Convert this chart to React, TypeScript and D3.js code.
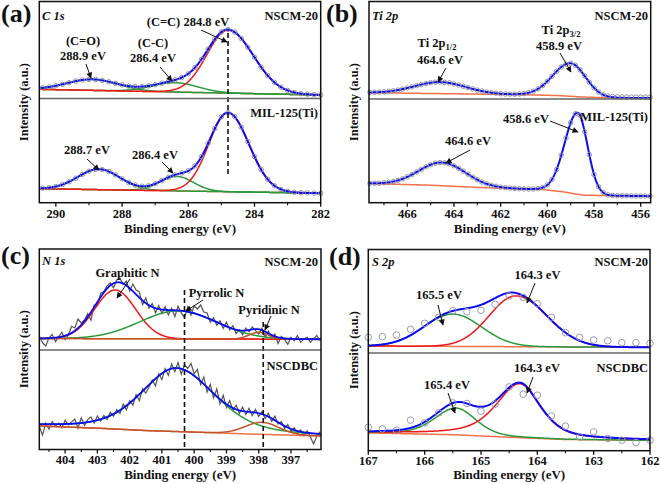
import React from "react";
import * as d3 from "d3";

// ================= DATA =================
// Axis ticks (binding energy, eV)
const C1S_TICKS = [290, 288, 286, 284, 282];
const C1S_MINOR = [289, 287, 285, 283];
const TI2P_TICKS = [466, 464, 462, 460, 458, 456];
const TI2P_MINOR = [467, 465, 463, 461, 459, 457];
const N1S_TICKS = [404, 403, 402, 401, 400, 399, 398, 397];
const N1S_MINOR = [404.5, 403.5, 402.5, 401.5, 400.5, 399.5, 398.5, 397.5, 396.5];
const S2P_TICKS = [167, 166, 165, 164, 163, 162];
const S2P_MINOR = [166.5, 165.5, 164.5, 163.5, 162.5];

// Measurement channels (start eV, step eV, count)
const C1S_CHANNELS = { start: 290.4, step: -0.2, count: 43 };
const TI2P_CHANNELS = { start: 467.6, step: -0.2, count: 61 };
const N1S_CHANNELS = { start: 404.8, step: -0.1, count: 88 };
const S2P_CHANNELS = { start: 167, step: -0.25, count: 21 };

// Observed intensities (a.u.)
const C1S_NSCM_OBS = [10.7, 11.6, 12.8, 14.2, 15.8, 17.4, 18.5, 19.1, 19.0, 18.1, 16.7, 15.2, 13.6, 12.4, 11.9, 11.9, 12.6, 13.8, 15.3, 16.8, 18.6, 20.9, 24.7, 30.9, 39.2, 49.4, 59.4, 66.6, 69.0, 66.5, 60.0, 51.3, 41.3, 31.4, 22.9, 16.2, 11.3, 8.1, 6.0, 4.9, 4.3, 3.8, 3.6];
const C1S_MIL_OBS = [14.6, 15.0, 16.2, 18.1, 20.9, 24.5, 28.3, 31.5, 33.3, 33.2, 31.2, 27.8, 23.8, 20.2, 17.6, 16.5, 16.9, 19.0, 22.1, 25.3, 27.8, 29.7, 31.9, 36.8, 46.1, 59.5, 74.2, 85.9, 90.1, 86.0, 75.5, 61.1, 46.1, 33.1, 23.4, 17.0, 13.3, 11.4, 10.4, 10.0, 9.8, 9.6, 9.5];
const TI2P_NSCM_OBS = [6.6, 6.7, 6.9, 7.2, 7.7, 8.2, 8.9, 9.9, 11.0, 12.1, 13.3, 14.4, 15.5, 16.3, 16.8, 16.9, 16.6, 16.1, 15.1, 14.0, 12.7, 11.4, 10.2, 8.9, 7.9, 7.0, 6.3, 5.8, 5.3, 5.0, 4.9, 4.8, 5.0, 5.5, 6.3, 7.8, 10.1, 13.4, 17.7, 22.7, 27.8, 32.1, 34.9, 35.7, 33.8, 29.2, 23.1, 16.8, 11.2, 7.0, 4.2, 3.0, 2.5, 2.2, 2.1, 2.0, 2.0, 1.9, 1.9, 1.8, 1.8];
const TI2P_MIL_OBS = [19.4, 19.5, 19.5, 19.9, 20.4, 21.1, 22.3, 23.9, 25.9, 28.1, 30.7, 33.4, 35.8, 38.0, 39.5, 40.2, 39.9, 38.8, 36.9, 34.4, 31.6, 28.6, 25.6, 23.0, 20.7, 18.9, 17.4, 16.4, 15.6, 15.0, 14.6, 14.3, 14.0, 13.8, 13.7, 13.7, 14.1, 15.2, 17.8, 23.3, 33.2, 47.6, 64.5, 79.9, 89.0, 87.4, 71.0, 48.1, 28.2, 15.9, 10.0, 7.8, 7.3, 7.0, 6.9, 6.85, 6.8, 6.7, 6.65, 6.6, 6.5];
const N1S_NSCM_OBS = [14.0, 7.2, 4.0, 12.1, 15.4, 8.3, 13.1, 17.8, 10.4, 14.7, 23.7, 22.0, 31.0, 27.0, 30.0, 36.3, 29.7, 44.8, 44.7, 56.5, 58.4, 64.1, 67.0, 62.2, 70.0, 71.7, 65.7, 68.8, 58.8, 66.0, 60.0, 58.0, 45.3, 52.2, 41.8, 46.4, 37.1, 44.4, 36.4, 43.3, 35.0, 41.8, 33.4, 43.8, 37.1, 32.3, 43.0, 35.0, 44.0, 41.0, 45.0, 38.0, 37.0, 27.8, 32.2, 24.7, 29.2, 21.7, 27.8, 20.1, 24.3, 16.5, 20.3, 15.3, 22.0, 18.2, 23.1, 19.4, 16.1, 21.8, 12.7, 18.9, 11.6, 15.9, 6.5, 13.7, 10.7, 5.7, 12.6, 9.3, 14.4, 7.7, 11.1, 12.8, 7.7, 11.2, 14.6, 9.5];
const N1S_NSCDBC_OBS = [23.3, 14.4, 26.4, 20.4, 27.9, 23.4, 26.3, 21.8, 29.3, 24.7, 27.6, 30.5, 21.4, 31.8, 24.1, 29.9, 32.6, 26.3, 33.4, 28.4, 33.9, 30.2, 37.1, 33.3, 39.9, 35.9, 45.3, 39.6, 48.8, 44.4, 55.0, 48.9, 60.9, 56.3, 62.2, 69.6, 63.6, 75.7, 70.0, 80.9, 74.1, 85.6, 77.8, 86.9, 75.2, 84.7, 81.0, 86.0, 75.7, 80.0, 64.9, 72.4, 57.4, 65.0, 51.6, 60.5, 45.4, 54.2, 41.9, 48.9, 39.3, 44.4, 36.0, 42.3, 35.1, 41.2, 33.9, 40.1, 32.9, 37.8, 30.9, 36.1, 28.0, 33.4, 25.4, 27.8, 21.2, 25.0, 18.2, 21.8, 16.3, 19.6, 13.9, 18.7, 12.8, 5.5, 13.2, 17.8];
const S2P_NSCM_OBS = [15.7, 16.3, 18, 23.7, 29.7, 35.7, 42.3, 41.3, 42.7, 48.7, 57, 55.7, 49.3, 35.7, 20.3, 15.7, 13, 12.3, 10.3, 10.3, 9.7];
const S2P_NSCDBC_OBS = [23.5, 21.8, 20.5, 30.5, 27.8, 37.8, 47.8, 47.2, 39.5, 46.5, 63.8, 56.5, 55.5, 34.8, 24.5, 13.8, 18.8, 12.2, 10.5, 8.2, 10.5];

// Backgrounds: [eV, intensity] knots
const C1S_NSCM_BG: [number, number][] = [[290.5, 9.2], [282, 3.5]];
const C1S_MIL_BG: [number, number][] = [[290.5, 14], [282, 9.5]];
const TI2P_NSCM_BG: [number, number][] = [[467.64, 6.3], [461, 4.3], [459.5, 3.4], [458.5, 2.0], [457.5, 1.2], [455.57, 0.9]];
const TI2P_MIL_BG: [number, number][] = [[467.64, 19.2], [465.0, 17.5], [462.9, 15.2], [460.2, 13.2], [459.3, 10.8], [458.46, 7.5], [455.57, 6.5]];
const N1S_NSCM_BG: [number, number][] = [[404.8, 11.5], [396.07, 10.7]];
const N1S_NSCDBC_BG: [number, number][] = [[404.8, 23.5], [402.9, 21.2], [401.4, 18.8], [399.8, 17.2], [398.3, 15.5], [396.07, 13.5]];
const S2P_NSCM_BG: [number, number][] = [[167, 7], [162, 5.7]];
const S2P_NSCDBC_BG: [number, number][] = [[167, 17.8], [165.5, 16.0], [164.3, 13.0], [163.5, 11.2], [162, 10.3]];

// Fitted peaks: center (eV), height, half widths on high/low BE side, Lorentzian fraction
type Peak = { comp: string; center: number; height: number; hwHigh: number; hwLow: number; eta: number };
const C1S_NSCM_PEAKS: Peak[] = [
  { comp: "C=O", center: 288.9, height: 11, hwHigh: 0.9, hwLow: 0.9, eta: 0 },
  { comp: "C-C", center: 286.4, height: 9.4, hwHigh: 0.8, hwLow: 0.8, eta: 0 },
  { comp: "C=C", center: 284.8, height: 63, hwHigh: 0.75, hwLow: 0.9, eta: 0 },
];
const C1S_MIL_PEAKS: Peak[] = [
  { comp: "C=O", center: 288.7, height: 20.5, hwHigh: 0.745, hwLow: 0.745, eta: 0 },
  { comp: "C-C", center: 286.35, height: 14.5, hwHigh: 0.59, hwLow: 0.59, eta: 0 },
  { comp: "C=C", center: 284.8, height: 79, hwHigh: 0.676, hwLow: 0.745, eta: 0 },
];
const TI2P_NSCM_PEAKS: Peak[] = [
  { comp: "Ti2p1/2", center: 464.6, height: 11.5, hwHigh: 1.3, hwLow: 1.3, eta: 0 },
  { comp: "Ti2p3/2", center: 459.0, height: 33, hwHigh: 0.9, hwLow: 0.75, eta: 0 },
];
const TI2P_MIL_PEAKS: Peak[] = [
  { comp: "Ti2p1/2", center: 464.5, height: 23.2, hwHigh: 1.186, hwLow: 1.186, eta: 0 },
  { comp: "Ti2p3/2", center: 458.7, height: 81.5, hwHigh: 0.65, hwLow: 0.5, eta: 0 },
];
const N1S_NSCM_PEAKS: Peak[] = [
  { comp: "graphitic", center: 402.45, height: 48.7, hwHigh: 0.75, hwLow: 0.75, eta: 0 },
  { comp: "pyrrolic", center: 400.5, height: 28, hwHigh: 1.4, hwLow: 1.4, eta: 0 },
  { comp: "pyridinic", center: 398.0, height: 6.8, hwHigh: 0.35, hwLow: 0.35, eta: 0 },
];
const N1S_NSCDBC_PEAKS: Peak[] = [
  { comp: "pyrrolic", center: 400.55, height: 63.5, hwHigh: 1.28, hwLow: 1.4, eta: 0.35 },
  { comp: "pyridinic", center: 397.9, height: 12, hwHigh: 0.62, hwLow: 0.62, eta: 0 },
];
const S2P_NSCM_PEAKS: Peak[] = [
  { comp: "S2p1/2", center: 165.5, height: 32.3, hwHigh: 0.6, hwLow: 0.6, eta: 0 },
  { comp: "S2p3/2", center: 164.38, height: 50.8, hwHigh: 0.56, hwLow: 0.65, eta: 0 },
];
const S2P_NSCDBC_PEAKS: Peak[] = [
  { comp: "S2p1/2", center: 165.44, height: 26.8, hwHigh: 0.45, hwLow: 0.41, eta: 0.3 },
  { comp: "S2p3/2", center: 164.31, height: 54, hwHigh: 0.5, hwLow: 0.43, eta: 0.6 },
];

// ================= STYLE / LAYOUT =================
const FONT = "'Liberation Serif','Times New Roman',Times,serif";
const BLUE = "#0c0cf0";
const RED = "#f01818";
const GREEN = "#2b9a3c";
const BROWN = "#c0542a";
const ORANGE = "#f4704a";
const COMP_COLOR: Record<string, string | null> = {
  "C=C": RED, "C-C": GREEN, "C=O": GREEN,
  "Ti2p1/2": null, "Ti2p3/2": null,
  graphitic: RED, pyrrolic: GREEN, pyridinic: BROWN,
  "S2p3/2": RED, "S2p1/2": GREEN,
};

type Sub = { bg: [number, number][]; peaks: Peak[]; ch: { start: number; step: number; count: number }; obs: number[] };
type Panel = {
  x0: number; x1: number; top: number; mid: number; bottom: number;
  domain: [number, number]; ticks: number[]; minor: number[];
  tickY: number; titleY: number; ylabX: number;
  letter: string; letterX: number; letterY: number;
  obsStyle: "dots" | "bigdots" | "line";
  subs: [Sub, Sub];
  dashed: { e: number; y1: number; y2: number }[];
  arrows: number[][];
  texts: { t: string; x: number; y: number; anchor?: string; italic?: boolean; sub?: string }[];
};

const PANELS: Panel[] = [
  {
    x0: 39.3, x1: 320.7, top: 1.5, mid: 98.5, bottom: 202.7, domain: [290.5, 282],
    ticks: C1S_TICKS, minor: C1S_MINOR, tickY: 218, titleY: 232.5, ylabX: 28,
    letter: "(a)", letterX: 1, letterY: 22, obsStyle: "dots",
    subs: [
      { bg: C1S_NSCM_BG, peaks: C1S_NSCM_PEAKS, ch: C1S_CHANNELS, obs: C1S_NSCM_OBS },
      { bg: C1S_MIL_BG, peaks: C1S_MIL_PEAKS, ch: C1S_CHANNELS, obs: C1S_MIL_OBS },
    ],
    dashed: [{ e: 284.8, y1: 33, y2: 176 }],
    arrows: [[86, 64, 91, 78], [160, 67, 172, 81], [201, 30, 227, 42], [87, 159, 99, 170], [162, 162, 173, 173]],
    texts: [
      { t: "C 1s", x: 42, y: 19.5, anchor: "start", italic: true },
      { t: "NSCM-20", x: 318, y: 19.5, anchor: "end" },
      { t: "(C=O)", x: 83, y: 45 },
      { t: "288.9 eV", x: 83, y: 59.5 },
      { t: "(C-C)", x: 153, y: 47 },
      { t: "286.4 eV", x: 153, y: 62 },
      { t: "(C=C) 284.8 eV", x: 188, y: 25.5 },
      { t: "MIL-125(Ti)", x: 318, y: 117, anchor: "end" },
      { t: "288.7 eV", x: 87, y: 153.5 },
      { t: "286.4 eV", x: 155, y: 159 },
    ],
  },
  {
    x0: 369, x1: 650.7, top: 1.5, mid: 99, bottom: 202.7, domain: [467.64, 455.57],
    ticks: TI2P_TICKS, minor: TI2P_MINOR, tickY: 218, titleY: 232.5, ylabX: 358,
    letter: "(b)", letterX: 326, letterY: 22, obsStyle: "dots",
    subs: [
      { bg: TI2P_NSCM_BG, peaks: TI2P_NSCM_PEAKS, ch: TI2P_CHANNELS, obs: TI2P_NSCM_OBS },
      { bg: TI2P_MIL_BG, peaks: TI2P_MIL_PEAKS, ch: TI2P_CHANNELS, obs: TI2P_MIL_OBS },
    ],
    dashed: [],
    arrows: [[560, 53, 571, 72], [446, 68, 438, 82], [550, 121, 578, 132], [470, 150, 446, 163]],
    texts: [
      { t: "Ti 2p", x: 372, y: 19.5, anchor: "start", italic: true },
      { t: "NSCM-20", x: 648, y: 19.5, anchor: "end" },
      { t: "Ti 2p", sub: "3/2", x: 561, y: 33.5 },
      { t: "458.9 eV", x: 559, y: 49.5 },
      { t: "Ti 2p", sub: "1/2", x: 437, y: 47 },
      { t: "464.6 eV", x: 440, y: 63.5 },
      { t: "458.6 eV", x: 526, y: 122.5 },
      { t: "MIL-125(Ti)", x: 648, y: 121, anchor: "end" },
      { t: "464.6 eV", x: 468, y: 145 },
    ],
  },
  {
    x0: 39.3, x1: 321, top: 249, mid: 350, bottom: 449.5, domain: [404.8, 396.07],
    ticks: N1S_TICKS, minor: N1S_MINOR, tickY: 464, titleY: 478.5, ylabX: 28,
    letter: "(c)", letterX: 1, letterY: 264, obsStyle: "line",
    subs: [
      { bg: N1S_NSCM_BG, peaks: N1S_NSCM_PEAKS, ch: N1S_CHANNELS, obs: N1S_NSCM_OBS },
      { bg: N1S_NSCDBC_BG, peaks: N1S_NSCDBC_PEAKS, ch: N1S_CHANNELS, obs: N1S_NSCDBC_OBS },
    ],
    dashed: [{ e: 400.3, y1: 290, y2: 448 }, { e: 397.86, y1: 322, y2: 448 }],
    arrows: [[130, 279, 117, 298], [203, 300, 186, 311], [271, 316, 265, 330]],
    texts: [
      { t: "N 1s", x: 42, y: 265, anchor: "start", italic: true },
      { t: "NSCM-20", x: 318, y: 265.5, anchor: "end" },
      { t: "Graphitic N", x: 127.5, y: 276.5 },
      { t: "Pyrrolic N", x: 216.5, y: 297 },
      { t: "Pyridinic N", x: 269, y: 314 },
      { t: "NSCDBC", x: 318, y: 370, anchor: "end" },
    ],
  },
  {
    x0: 368.3, x1: 650, top: 249.5, mid: 353, bottom: 450.7, domain: [167, 162],
    ticks: S2P_TICKS, minor: S2P_MINOR, tickY: 465, titleY: 479, ylabX: 358,
    letter: "(d)", letterX: 329, letterY: 265, obsStyle: "bigdots",
    subs: [
      { bg: S2P_NSCM_BG, peaks: S2P_NSCM_PEAKS, ch: S2P_CHANNELS, obs: S2P_NSCM_OBS },
      { bg: S2P_NSCDBC_BG, peaks: S2P_NSCDBC_PEAKS, ch: S2P_CHANNELS, obs: S2P_NSCDBC_OBS },
    ],
    dashed: [],
    arrows: [[535, 283, 527, 303], [438, 305, 443, 325], [533, 377, 527, 393], [448, 393, 455, 413]],
    texts: [
      { t: "S 2p", x: 372, y: 265.5, anchor: "start", italic: true },
      { t: "NSCM-20", x: 648, y: 265.5, anchor: "end" },
      { t: "164.3 eV", x: 537.5, y: 278.5 },
      { t: "165.5 eV", x: 439, y: 299 },
      { t: "NSCDBC", x: 648, y: 371.5, anchor: "end" },
      { t: "164.3 eV", x: 537, y: 371.5 },
      { t: "165.4 eV", x: 447, y: 388.5 },
    ],
  },
];

function profile(p: Peak, v: number) {
  const d = v - p.center;
  const hw = d >= 0 ? p.hwHigh : p.hwLow;
  const r2 = (d / hw) * (d / hw);
  return p.height * ((1 - p.eta) * Math.pow(2, -r2) + p.eta / (1 + r2));
}

function SubPlot({ sub, x, y, style, clip, dom }: { sub: Sub; x: d3.ScaleLinear<number, number>; y: d3.ScaleLinear<number, number>; style: string; clip: string; dom: [number, number] }) {
  const bgScale = d3.scaleLinear().domain(sub.bg.map((d) => d[0])).range(sub.bg.map((d) => d[1])).clamp(true);
  const xs = d3.range(0, 501).map((i) => dom[0] + ((dom[1] - dom[0]) * i) / 500);
  const env = (v: number) => bgScale(v) + d3.sum(sub.peaks, (p) => profile(p, v));
  const line = (f: (v: number) => number) =>
    d3.line<number>().x((v) => x(v)).y((v) => y(f(v))).curve(d3.curveLinear)(xs) || "";
  const energies = sub.obs.map((_, i) => sub.ch.start + sub.ch.step * i);
  const obsLine = d3.line<number>().x((_, i) => x(energies[i])).y((v) => y(v))(sub.obs) || "";
  return (
    <g>
      <g clipPath={`url(#${clip})`}>
        {style === "line" && <path d={obsLine} fill="none" stroke="#555" strokeWidth={1.2} />}
        <path d={line((v) => bgScale(v))} fill="none" stroke={ORANGE} strokeWidth={1.5} />
        {sub.peaks.map((p, i) => {
          const c = COMP_COLOR[p.comp];
          if (!c) return null;
          return <path key={i} d={line((v) => bgScale(v) + profile(p, v))} fill="none" stroke={c} strokeWidth={1.5} />;
        })}
        <path d={line(env)} fill="none" stroke={BLUE} strokeWidth={style === "line" ? 1.8 : 2} />
      </g>
      {style !== "line" &&
        sub.obs.map((v, i) => (
          <circle key={i} cx={x(energies[i])} cy={y(v)} r={style === "bigdots" ? 3.3 : 2.25}
            fill="none" stroke={style === "bigdots" ? "#9a9ab4" : "#8c8c98"} strokeWidth={style === "bigdots" ? 1 : 0.9} />
        ))}
    </g>
  );
}

function PanelView({ p, idx }: { p: Panel; idx: number }) {
  const x = d3.scaleLinear().domain(p.domain).range([p.x0, p.x1]);
  const yTop = d3.scaleLinear().domain([0, p.mid - p.top]).range([p.mid, p.top]);
  const yBot = d3.scaleLinear().domain([0, p.bottom - p.mid]).range([p.bottom, p.mid]);
  const cx = (p.x0 + p.x1) / 2;
  const cy = (p.top + p.bottom) / 2;
  return (
    <g>
      <defs>
        <clipPath id={`clipT${idx}`}><rect x={p.x0} y={p.top} width={p.x1 - p.x0} height={p.mid - p.top} /></clipPath>
        <clipPath id={`clipB${idx}`}><rect x={p.x0} y={p.mid} width={p.x1 - p.x0} height={p.bottom - p.mid} /></clipPath>
      </defs>
      <SubPlot sub={p.subs[0]} x={x} y={yTop} style={p.obsStyle} clip={`clipT${idx}`} dom={p.domain} />
      <SubPlot sub={p.subs[1]} x={x} y={yBot} style={p.obsStyle} clip={`clipB${idx}`} dom={p.domain} />
      {p.dashed.map((d, i) => (
        <line key={i} x1={x(d.e)} x2={x(d.e)} y1={d.y1} y2={d.y2} stroke="#111" strokeWidth={1.6} strokeDasharray="5,3" />
      ))}
      <line x1={p.x0} x2={p.x1} y1={p.mid} y2={p.mid} stroke="#666" strokeWidth={1.6} />
      <rect x={p.x0} y={p.top} width={p.x1 - p.x0} height={p.bottom - p.top} fill="none" stroke="#111" strokeWidth={1.5} />
      {p.ticks.map((t) => (
        <g key={t}>
          <line x1={x(t)} x2={x(t)} y1={p.bottom} y2={p.bottom + 4} stroke="#111" strokeWidth={1.3} />
          <text x={x(t)} y={p.tickY} textAnchor="middle" fontFamily={FONT} fontWeight="bold" fontSize={12.5} fill="#111">{t}</text>
        </g>
      ))}
      {p.minor.map((t) => (
        <line key={t} x1={x(t)} x2={x(t)} y1={p.bottom} y2={p.bottom + 2.5} stroke="#111" strokeWidth={1.1} />
      ))}
      <text x={cx} y={p.titleY} textAnchor="middle" fontFamily={FONT} fontWeight="bold" fontSize={13} fill="#111">Binding energy (eV)</text>
      <text transform={`translate(${p.ylabX},${cy}) rotate(-90)`} textAnchor="middle" fontFamily={FONT} fontWeight="bold" fontSize={12.5} fill="#111">Intensity (a.u.)</text>
      <text x={p.letterX} y={p.letterY} fontFamily={FONT} fontWeight="bold" fontSize={26} fill="#111">{p.letter}</text>
      {p.arrows.map((a, i) => (
        <line key={i} x1={a[0]} y1={a[1]} x2={a[2]} y2={a[3]} stroke="#111" strokeWidth={1} markerEnd="url(#arrowHead)" />
      ))}
      {p.texts.map((t, i) => (
        <text key={i} x={t.x} y={t.y} textAnchor={t.anchor || "middle"} fontFamily={FONT} fontWeight="bold"
          fontStyle={t.italic ? "italic" : "normal"} fontSize={12.5} fill="#111">
          {t.t}
          {t.sub && <tspan fontSize={8.5} dy={3}>{t.sub}</tspan>}
        </text>
      ))}
    </g>
  );
}

export default function App() {
  return (
    <svg width={661} height={484} style={{ position: "absolute", left: 0, top: 0, background: "#fff" }}>
      <defs>
        <marker id="arrowHead" viewBox="0 0 10 10" refX="9" refY="5" markerWidth="7" markerHeight="6" orient="auto" markerUnits="userSpaceOnUse">
          <path d="M0,0 L10,5 L0,10 z" fill="#111" />
        </marker>
      </defs>
      <rect x={0} y={0} width={661} height={484} fill="#fff" />
      {PANELS.map((p, i) => <PanelView key={i} p={p} idx={i} />)}
    </svg>
  );
}
